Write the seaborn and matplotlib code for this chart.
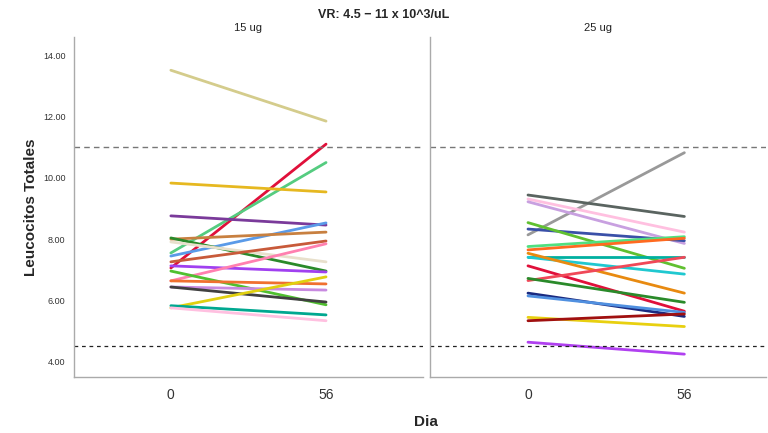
import numpy as np
import pandas as pd
import matplotlib
matplotlib.use("Agg")
import matplotlib.pyplot as plt
import seaborn as sns

# ---- data ----
dias = ["0", "56"]
doses = ["15 ug", "25 ug"]

p1_day0 = [13.51, 7.06, 7.55, 9.83, 8.76, 7.45, 8.00, 8.04, 7.91, 7.26, 7.13, 6.64, 6.96, 6.64, 6.44, 6.44, 5.76, 5.83, 5.76]
p1_day56 = [11.85, 11.10, 10.50, 9.54, 8.46, 8.53, 8.23, 6.96, 7.26, 7.94, 6.93, 7.85, 5.86, 6.54, 6.34, 5.95, 6.77, 5.53, 5.34]
p1_colors = ["#d4cc8c", "#e0103a", "#55cc80", "#e6b820", "#7a3a9a", "#5a9ae8", "#c88040",
             "#2a8a2a", "#e8e0cc", "#c85a3a", "#a040f0", "#ff80b0", "#50c030", "#f07030",
             "#c88ae0", "#404040", "#e0d010", "#00a890", "#ffc0e0"]

p2_day0 = [8.14, 9.44, 9.31, 9.22, 8.33, 8.54, 7.76, 7.65, 7.43, 7.41, 7.54, 7.13, 6.65, 6.72, 6.24, 6.15, 5.45, 5.34, 4.64]
p2_day56 = [10.82, 8.74, 8.23, 7.86, 7.95, 7.05, 8.08, 8.03, 7.43, 6.86, 6.24, 5.65, 7.41, 5.94, 5.48, 5.61, 5.15, 5.56, 4.25]
p2_colors = ["#999999", "#5a6460", "#ffc0e0", "#c8a0e0", "#3a50a8", "#60c030", "#50e080",
             "#ff6a20", "#00b0a0", "#20c8d0", "#e88a10", "#e0103a", "#f04858", "#2a8a2a",
             "#1a2a80", "#5090e0", "#e8d010", "#a01010", "#b040f0"]

ref_high = 11.0
ref_low = 4.5
y_ticks = [4, 6, 8, 10, 12, 14]

sns.set_theme(style="white")
plt.rcParams["font.family"] = ["Liberation Sans", "DejaVu Sans"]

fig = plt.figure(figsize=(7.68, 4.33), dpi=100)
ax1 = fig.add_axes([0.096, 0.129, 0.455, 0.786])
ax2 = fig.add_axes([0.560, 0.129, 0.437, 0.786], sharey=ax1)

panels = [(ax1, p1_day0, p1_day56, p1_colors, doses[0]),
          (ax2, p2_day0, p2_day56, p2_colors, doses[1])]

for ax, d0, d56, cols, title in panels:
    n = len(d0)
    df = pd.DataFrame({
        "subject": [f"s{i}" for i in range(n)] * 2,
        "Dia": [dias[0]] * n + [dias[1]] * n,
        "value": list(d0) + list(d56),
    })
    sns.lineplot(data=df, x="Dia", y="value", hue="subject", palette=cols,
                 linewidth=2.0, legend=False, ax=ax, sort=False, estimator=None)
    ax.axhline(ref_high, color="#777777", linestyle=(0, (4, 3)), linewidth=1.0)
    ax.axhline(ref_low, color="#222222", linestyle=(0, (3, 3)), linewidth=0.9)
    ax.set_xlim(-0.626, 1.626 if ax is ax1 else 1.52)
    ax.set_ylim(3.5, 14.6)
    ax.set_xlabel("")
    ax.set_ylabel("")
    ax.set_title(title, fontsize=8, pad=4, color="#222222")
    for side in ["top", "right"]:
        ax.spines[side].set_visible(False)
    for side in ["left", "bottom"]:
        ax.spines[side].set_color("#aaaaaa")
        ax.spines[side].set_linewidth(1.0)
    ax.tick_params(axis="x", labelsize=10, colors="#333333", length=0, pad=8)
    ax.set_xticks([0, 1])
    ax.set_xticklabels(dias)

ax1.set_yticks(y_ticks)
ax1.set_yticklabels([f"{v:.2f}" for v in y_ticks])
ax1.tick_params(axis="y", labelsize=6.5, colors="#333333", length=0, pad=6)
ax2.tick_params(axis="y", left=False, labelleft=False)

fig.text(0.5, 0.965, "VR: 4.5 \u2212 11 x 10^3/uL", ha="center", va="center",
         fontsize=9, fontweight="bold")
fig.text(0.555, 0.025, "Dia", ha="center", va="center", fontsize=11, fontweight="bold")
fig.text(0.04, 0.522, "Leucocitos Totales", ha="center", va="center", rotation=90,
         fontsize=11, fontweight="bold")

fig.savefig("out.png", dpi=100)
